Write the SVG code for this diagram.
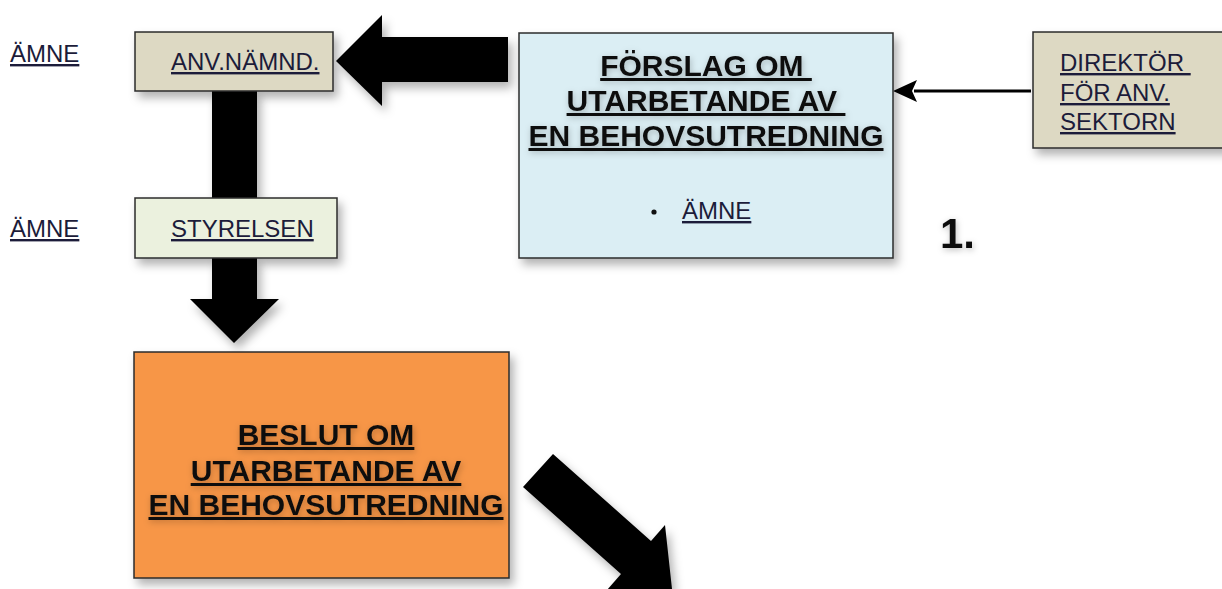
<svg xmlns="http://www.w3.org/2000/svg" width="1222" height="589" viewBox="0 0 1222 589">
<defs>
<filter id="sh" x="-20%" y="-20%" width="150%" height="150%">
<feDropShadow dx="4" dy="6" stdDeviation="5" flood-color="#000" flood-opacity="0.3"/>
</filter>
<filter id="tsh" x="-10%" y="-30%" width="120%" height="160%">
<feDropShadow dx="1" dy="2" stdDeviation="3" flood-color="#000" flood-opacity="0.25"/>
</filter>
</defs>
<style>
.box{stroke:#2b2b2b;stroke-width:1.5;filter:url(#sh)}
.lbl{font-family:"Liberation Sans",Arial,sans-serif;font-size:24px;fill:#1c1c3a;text-decoration:underline}
.big{font-family:"Liberation Sans",Arial,sans-serif;font-size:30px;font-weight:bold;fill:#111;text-decoration:underline;text-anchor:middle;filter:url(#tsh)}
.arr{fill:#000;filter:url(#sh)}
</style>
<rect width="1222" height="589" fill="#fff"/>

<g id="connectors">
<polygon class="arr" points="336,61 382,15 382,37 508,37 508,82 382,82 382,106"/>
<rect class="arr" x="212" y="91" width="45" height="107"/>
<polygon class="arr" points="212,258 257,258 257,299 279,299 234,343 190,299 212,299"/>
<polygon class="arr" points="553,454 651,541 665,525 672,589 607,590 621,574 523,487"/>
<line x1="1031" y1="91" x2="914" y2="91" stroke="#000" stroke-width="3"/>
<polygon points="893,91 917,80 912,91 917,102" fill="#000"/>
</g>

<g id="label-amne-1">
<text class="lbl" x="10" y="62">ÄMNE</text>
</g>
<g id="label-amne-2">
<text class="lbl" x="10" y="237">ÄMNE</text>
</g>

<g id="node-anv">
<rect class="box" x="135" y="32" width="198" height="59" fill="#ddd9c3"/>
<text class="lbl" x="171" y="70">ANV.NÄMND.</text>
</g>

<g id="node-styrelsen">
<rect class="box" x="135" y="198" width="202" height="60" fill="#ebf1de"/>
<text class="lbl" x="171" y="237">STYRELSEN</text>
</g>

<g id="node-forslag">
<rect class="box" x="519" y="33" width="374" height="225" fill="#dbeef4"/>
<text class="big" x="706" y="76" xml:space="preserve">FÖRSLAG OM </text>
<text class="big" x="706" y="111" xml:space="preserve">UTARBETANDE AV </text>
<text class="big" x="706" y="146">EN BEHOVSUTREDNING</text>
<circle cx="654" cy="212" r="2.6" fill="#111"/>
<text class="lbl" x="682" y="219">ÄMNE</text>
</g>

<g id="node-direktor">
<rect class="box" x="1033" y="32" width="200" height="116" fill="#ddd9c3"/>
<text class="lbl" x="1060" y="71" xml:space="preserve">DIREKTÖR </text>
<text class="lbl" x="1060" y="101">FÖR ANV.</text>
<text class="lbl" x="1060" y="130">SEKTORN</text>
</g>

<g id="label-1">
<text x="940" y="248" font-family="Liberation Sans,Arial,sans-serif" font-size="42" font-weight="bold" fill="#111" filter="url(#tsh)">1.</text>
</g>

<g id="node-beslut">
<rect class="box" x="134" y="352" width="375" height="226" fill="#f79646"/>
<text class="big" x="326" y="445">BESLUT OM</text>
<text class="big" x="326" y="481">UTARBETANDE AV</text>
<text class="big" x="326" y="515">EN BEHOVSUTREDNING</text>
</g>
</svg>
